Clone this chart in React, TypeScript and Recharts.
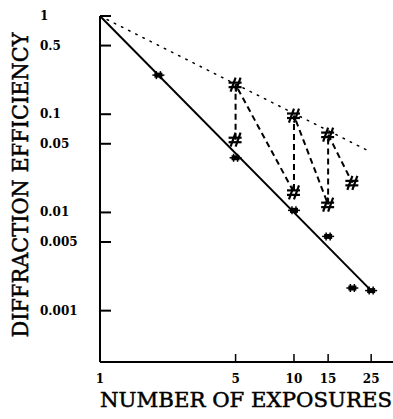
import { ComposedChart, Line, XAxis, YAxis } from 'recharts'

// values
const fitX = [1, 25]
const fitY = [1, 0.0016]

const starX = [2, 5, 10, 15, 20, 25]
const starY = [0.25, 0.036, 0.0105, 0.0057, 0.0017, 0.0016]

// zigzag path through the # points, in drawing order
const hashX = [5, 5, 10, 10, 15, 15, 20]
const hashY = [0.055, 0.2, 0.016, 0.097, 0.012, 0.062, 0.02]

const envX = [1, 25]
const envY = [1, 0.041]

const xTicks = [1, 5, 10, 15, 25]
const yTicks = [1, 0.5, 0.1, 0.05, 0.01, 0.005, 0.001]

const zip = (xs: number[], ys: number[]) => xs.map((x, i) => ({ x, y: ys[i] }))
const fit = zip(fitX, fitY)
const stars = zip(starX, starY)
const hashes = zip(hashX, hashY)
const envelope = zip(envX, envY)

const serif = '"DejaVu Serif", serif'

function YTick({ x, y, payload }: any) {
  return (
    <g>
      <line x1={x} x2={x + 11} y1={y} y2={y} stroke="#000" strokeWidth={2} />
      <text x={40} y={y} dy={4} textAnchor="start" fontFamily={serif} fontWeight="bold" fontSize={12} fill="#000">
        {payload.value}
      </text>
    </g>
  )
}

function XTick({ x, y, payload }: any) {
  return (
    <g>
      <line x1={x} x2={x} y1={y} y2={y - 8} stroke="#000" strokeWidth={1.5} />
      <text x={x} y={y + 21} textAnchor="middle" fontFamily={serif} fontWeight="bold" fontSize={12} fill="#000">
        {payload.value}
      </text>
    </g>
  )
}

function StarDot({ cx, cy }: any) {
  if (cx == null || cy == null) return null
  return (
    <g stroke="#000" strokeWidth={1.5}>
      <rect x={cx - 4} y={cy - 2.5} width={8} height={5} fill="#000" stroke="none" />
      <line x1={cx - 6} x2={cx + 6} y1={cy} y2={cy} />
      <line x1={cx - 2} x2={cx - 2} y1={cy - 4} y2={cy + 4} />
      <line x1={cx + 2} x2={cx + 2} y1={cy - 4} y2={cy + 4} />
    </g>
  )
}

function HashDot({ cx, cy }: any) {
  if (cx == null || cy == null) return null
  return (
    <g stroke="#000" strokeWidth={2.2} strokeDasharray="none">
      <line x1={cx - 5} x2={cx} y1={cy + 7} y2={cy - 7} />
      <line x1={cx} x2={cx + 5} y1={cy + 7} y2={cy - 7} />
      <line x1={cx - 7} x2={cx + 6} y1={cy - 2} y2={cy - 2} />
      <line x1={cx - 7} x2={cx + 6} y1={cy + 2.5} y2={cy + 2.5} />
    </g>
  )
}

const yTitle = () => (
  <text
    transform="translate(21,185) rotate(-90)"
    textAnchor="middle"
    dy={7}
    fontFamily={serif}
    fontSize={23}
    textLength={305}
    lengthAdjust="spacingAndGlyphs"
    fill="#000"
    stroke="#000"
    strokeWidth={0.5}
  >
    DIFFRACTION EFFICIENCY
  </text>
)

const xTitle = () => (
  <text
    x={100}
    y={407}
    textAnchor="start"
    fontFamily={serif}
    fontSize={21}
    textLength={292}
    lengthAdjust="spacingAndGlyphs"
    fill="#000"
    stroke="#000"
    strokeWidth={0.5}
  >
    NUMBER OF EXPOSURES
  </text>
)

export default function App() {
  return (
    <div style={{ width: 393, height: 419, background: '#fff' }}>
      <style>{'body{margin:0}'}</style>
      <ComposedChart width={393} height={419} margin={{ top: 16, right: 0, bottom: 0, left: 0 }}>
        <XAxis
          dataKey="x"
          type="number"
          scale="log"
          domain={[1, 32.4]}
          ticks={xTicks}
          height={57}
          tickSize={0}
          tickMargin={0}
          tick={<XTick />}
          axisLine={{ stroke: '#000', strokeWidth: 2 }}
          allowDataOverflow
          label={{ value: 'NUMBER OF EXPOSURES', content: xTitle }}
        />
        <YAxis
          dataKey="y"
          type="number"
          scale="log"
          domain={[0.0003, 1]}
          ticks={yTicks}
          width={100}
          tickSize={0}
          tickMargin={0}
          tick={<YTick />}
          axisLine={{ stroke: '#000', strokeWidth: 2 }}
          allowDataOverflow
          label={{ value: 'DIFFRACTION EFFICIENCY', content: yTitle }}
        />
        <Line
          data={envelope}
          dataKey="y"
          stroke="#000"
          strokeWidth={1.5}
          strokeDasharray="1.5 6.5"
          strokeLinecap="round"
          dot={false}
          isAnimationActive={false}
        />
        <Line data={fit} dataKey="y" stroke="#000" strokeWidth={2} dot={false} isAnimationActive={false} />
        <Line
          data={hashes}
          dataKey="y"
          stroke="#000"
          strokeWidth={2}
          strokeDasharray="6 4"
          dot={(p: any) => <HashDot key={`h${p.index}`} {...p} />}
          isAnimationActive={false}
        />
        <Line
          data={stars}
          dataKey="y"
          stroke="none"
          dot={(p: any) => <StarDot key={`s${p.index}`} {...p} />}
          isAnimationActive={false}
        />
      </ComposedChart>
    </div>
  )
}
